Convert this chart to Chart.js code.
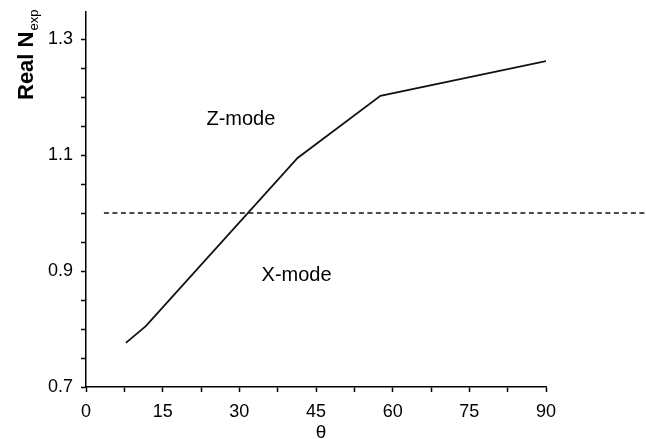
<!DOCTYPE html>
<html>
<head>
<meta charset="utf-8">
<script src="https://cdn.jsdelivr.net/npm/chart.js@4"></script>
<style>
  html, body { margin: 0; padding: 0; background: #fff; }
  #wrap { width: 646px; height: 439px; position: relative; }
</style>
</head>
<body>
<div id="wrap"><canvas id="myChart"></canvas></div>
<script>
// values
const thetaValues = [7.8, 11.7, 41.4, 57.6, 90];
const realNValues = [0.776, 0.805, 1.095, 1.202, 1.262];
const cutoffTheta = [3.5, 109.5];
const cutoffValue = [1.0, 1.0];
const xTickLabels = [0, 15, 30, 45, 60, 75, 90];
const yTickLabels = [0.7, 0.9, 1.1, 1.3];
const regionLabels = ["Z-mode", "X-mode"];
const regionTheta = [30.3, 41.2];
const regionValue = [1.161, 0.893];

const FONT = "'Liberation Sans', Arial, sans-serif";

const textPlugin = {
  id: "textPlugin",
  afterDraw(chart) {
    const ctx = chart.ctx;
    const x = chart.scales.x;
    const y = chart.scales.y;
    ctx.save();
    ctx.fillStyle = "#000";

    // region names inside the plot
    ctx.font = "20px " + FONT;
    ctx.textAlign = "center";
    ctx.textBaseline = "middle";
    regionLabels.forEach((txt, i) => {
      ctx.fillText(txt, x.getPixelForValue(regionTheta[i]), y.getPixelForValue(regionValue[i]));
    });

    // x axis title
    ctx.font = "19px " + FONT;
    ctx.fillText("θ", x.getPixelForValue(45) + 5, 433);

    // y axis title with subscript
    ctx.translate(33, 100);
    ctx.rotate(-Math.PI / 2);
    ctx.textAlign = "left";
    ctx.textBaseline = "alphabetic";
    ctx.font = "bold 22px " + FONT;
    ctx.fillText("Real N", 0, 0);
    const w = ctx.measureText("Real N").width;
    ctx.font = "13px " + FONT;
    ctx.fillText("exp", w + 1, 5);
    ctx.restore();
  },
};

const chart = document.getElementById("myChart");

const config = {
  type: "scatter",
  data: {
    datasets: [
      {
        data: thetaValues.map((t, i) => ({ x: t, y: realNValues[i] })),
        showLine: true,
        borderColor: "#111",
        borderWidth: 1.8,
        pointRadius: 0,
        tension: 0,
      },
      {
        data: cutoffTheta.map((t, i) => ({ x: t, y: cutoffValue[i] })),
        showLine: true,
        borderColor: "#111",
        borderWidth: 1.5,
        borderDash: [5, 3.5],
        pointRadius: 0,
        clip: false,
      },
    ],
  },
  options: {
    responsive: true,
    maintainAspectRatio: false,
    animation: false,
    layout: { padding: { top: 12, right: 100, bottom: 0, left: 0 } },
    plugins: {
      legend: { display: false },
      tooltip: { enabled: false },
    },
    scales: {
      x: {
        type: "linear",
        min: 0,
        max: 90,
        afterFit: (s) => { s.height = 52; s.paddingLeft = 0; s.paddingRight = 0; },
        border: { color: "#000", width: 1.5 },
        grid: {
          drawOnChartArea: false,
          drawTicks: true,
          tickLength: 5,
          tickColor: "#000",
          tickWidth: 1.5,
        },
        ticks: {
          stepSize: 7.5,
          autoSkip: false,
          maxRotation: 0,
          padding: 9,
          color: "#000",
          font: { family: FONT, size: 18 },
          callback: (v) => (xTickLabels.includes(v) ? String(v) : ""),
        },
      },
      y: {
        type: "linear",
        min: 0.7,
        max: 1.3466,
        afterFit: (s) => { s.width = 86; s.paddingTop = 0; s.paddingBottom = 0; },
        border: { color: "#000", width: 1.5 },
        grid: {
          drawOnChartArea: false,
          drawTicks: true,
          tickLength: 5,
          tickColor: "#000",
          tickWidth: 1.5,
        },
        ticks: {
          stepSize: 0.05,
          includeBounds: false,
          autoSkip: false,
          padding: 8,
          color: "#000",
          font: { family: FONT, size: 18 },
          callback: (v) => {
            const hit = yTickLabels.find((t) => Math.abs(t - v) < 1e-6);
            return hit !== undefined ? hit.toFixed(1) : "";
          },
        },
      },
    },
  },
  plugins: [textPlugin],
};

window.myChart = new Chart(chart, config);
</script>
</body>
</html>
